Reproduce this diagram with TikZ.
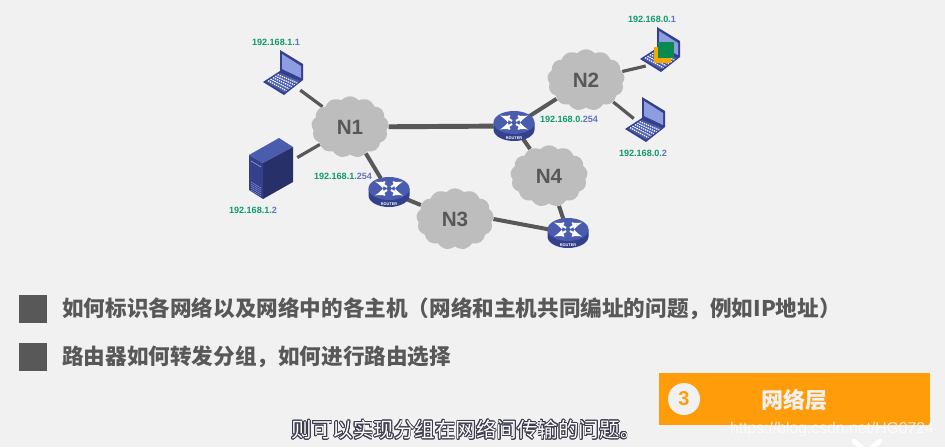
\documentclass[tikz,border=0pt]{standalone}
\usepackage{fontspec}
\usepackage{contour}
\setmainfont{Liberation Sans}
\newfontfamily\cjk{Noto Sans CJK SC}
\usetikzlibrary{shapes.symbols,shapes.geometric,calc,backgrounds}
\definecolor{netgray}{HTML}{BDBDBD}
\definecolor{linegray}{HTML}{585858}
\definecolor{ipgreen}{HTML}{0E9A6B}
\definecolor{ipblue}{HTML}{6673C0}
\definecolor{devdark}{HTML}{34408C}
\definecolor{devmid}{HTML}{4A5CAE}
\definecolor{devlight}{HTML}{8E9DE0}
\definecolor{layerorange}{HTML}{FF9C0A}
\definecolor{markorange}{HTML}{F5A800}
\definecolor{markgreen}{HTML}{0A8A50}
\definecolor{paper}{HTML}{F1F1F2}
\definecolor{subline}{HTML}{3C3C4C}
\contourlength{.55pt}
\newcommand{\ip}[2]{\textcolor{ipgreen}{#1}\textcolor{ipblue}{#2}}
\tikzset{
  net/.style={cloud,cloud puffs=13,cloud puff arc=100,fill=netgray,inner sep=0pt,
    minimum width=58pt,minimum height=46pt,text=linegray,font=\fontsize{15.5}{15.5}\selectfont\bfseries},
  dev/.style={inner sep=0pt,minimum size=6pt},
  routernode/.style={ellipse,inner sep=0pt,minimum width=30pt,minimum height=22pt},
  iplabel/.style={font=\fontsize{6.8}{7}\selectfont\bfseries,inner sep=0pt},
  bigline/.style={draw=linegray,line width=3pt},
  mainline/.style={draw=linegray,line width=3.7pt},
  smallline/.style={draw=linegray,line width=2.4pt},
  hanzi/.style={font=\fontsize{16.2}{16.2}\selectfont\cjk\bfseries,text=linegray,anchor=west,inner sep=0pt},
  bullet/.style={fill=linegray,draw=none,minimum size=21pt,inner sep=0pt},
  laptop/.pic={
    \fill[devdark] (-3,-23) -- (20,-9) -- (20,7) -- (1,22) -- (-20,9) -- (-3,-2) -- cycle;
    \fill[devlight] (-1,-19) -- (18,-7) -- (18,5) -- (-1,-4) -- cycle;
    \fill[devmid] (-17,9) -- (-3,0) -- (17,8) -- (1,19.5) -- cycle;
    \foreach \t in {.15,.32,.49,.66,.83}
      \draw[white,line width=.9pt,dash pattern=on 1pt off .7pt]
        ($(-17,9)!\t!(-3,0)$) -- ($(1,19.5)!\t!(17,8)$);
  },
  server/.pic={
    \fill[devmid] (0,-17) -- (14,-8) -- (-16,8) -- (-30,0) -- cycle;
    \fill[devdark] (-30,0) -- (-16,8) -- (-16,44) -- (-30,35) -- cycle;
    \fill[devdark!75!black] (-16,8) -- (14,-8) -- (14,27) -- (-16,44) -- cycle;
    \draw[devlight,line width=.5pt] (-28,6) -- (-18,12);
    \foreach \t in {27,29,31,33,35}
      \draw[devlight,line width=.3pt] (-28,\t) -- (-18,\t+6);
  },
  router/.pic={
    \fill[devdark] (-20.5,-3.5) -- (-20.5,3.5) arc[start angle=180,end angle=360,x radius=20.5,y radius=-11.5]
      -- (20.5,-3.5) -- cycle;
    \fill[devmid] (0,-3.5) ellipse[x radius=20.5,y radius=11.5];
    \foreach \sx in {-1,1}
      \foreach \sy in {-1,1} {
        \draw[white,line width=1.5pt,-latex] (\sx*2,\sy*1.5-3.5) -- (\sx*6,\sy*4-3.5) -- (\sx*14,\sy*7-3.5);
        \draw[white,line width=1.1pt] (\sx*4,\sy*6.5-3.5) -- (\sx*9,\sy*4.5-3.5);
      }
    \node[text=white,inner sep=0pt,font=\fontsize{2.9}{3}\selectfont\bfseries] at (0,12) {ROUTER};
  }
}
\begin{document}
\begin{tikzpicture}[x=.75pt,y=-.75pt]
  \useasboundingbox (0,0) rectangle (945,447);

  \node[net] (n1) at (350,127) {N1};
  \node[net] (n2) at (586,80) {N2};
  \node[net] (n3) at (455,219) {N3};
  \node[net] (n4) at (549,176) {N4};

  \node[routernode] (r1) at (389,192) {};
  \node[routernode] (r2) at (514,126) {};
  \node[routernode] (r3) at (568,233) {};
  \pic at (r1) {router};
  \pic at (r2) {router};
  \pic at (r3) {router};

  \pic at (283,73) {laptop};
  \pic at (660,50) {laptop};
  \pic at (645,120) {laptop};
  \pic at (279,155) {server};
  \node[dev] (pc1) at (296,87) {};
  \node[dev] (pc2) at (650,65) {};
  \node[dev] (pc3) at (638,122) {};
  \node[dev] (srv) at (293,160) {};

  \begin{scope}[on background layer]
    \fill[paper] (0,0) rectangle (945,447);
    \draw[smallline] (pc1) -- (n1);
    \draw[smallline] (srv) -- (n1);
    \draw[mainline] (n1) -- (r2);
    \draw[bigline] (n1) -- (r1);
    \draw[bigline] (r1) -- (n3);
    \draw[bigline] (n3.east) -- (r3);
    \draw[bigline] (r3) -- (n4);
    \draw[bigline] (n4) -- (r2);
    \draw[bigline] (r2) -- (n2);
    \draw[smallline] (n2) -- (pc2);
    \draw[smallline] (n2) -- (pc3);
  \end{scope}

  \fill[markorange] (654,47) rectangle (671,63);
  \fill[markgreen] (658,42) rectangle (674,58);

  \node[iplabel] (ip1) at (276,42) {\ip{192.168.1.}{1}};
  \node[iplabel] (ip2) at (253,210) {\ip{192.168.1.}{2}};
  \node[iplabel] (ip3) at (343,176) {\ip{192.168.1.}{254}};
  \node[iplabel] (ip4) at (652,19) {\ip{192.168.0.}{1}};
  \node[iplabel] (ip5) at (569,119) {\ip{192.168.0.}{254}};
  \node[iplabel] (ip6) at (643,153) {\ip{192.168.0.}{2}};

  \node[bullet] (b1) at (33,309) {};
  \node[bullet] (b2) at (33,357) {};
  \node[hanzi] (t1) at (62,309) {如何标识各网络以及网络中的各主机（网络和主机共同编址的问题，例如IP地址）};
  \node[hanzi] (t2) at (62,357) {路由器如何转发分组，如何进行路由选择};

  \fill[layerorange] (659,373) rectangle (930,425);
  \node[circle,fill=paper,minimum size=24pt,inner sep=0pt,text=layerorange,
    font=\fontsize{15}{15}\selectfont\bfseries] (num) at (684,399) {3};
  \node[font=\fontsize{16.5}{17}\selectfont\cjk\bfseries,text=paper,inner sep=0pt] (layer) at (794,400) {网络层};

  \node[font=\fontsize{15.4}{15.4}\selectfont\cjk,inner sep=0pt,text=white] (sub) at (466,430)
    {\contour{subline}{则可以实现分组在网络间传输的问题。}};
  \node[font=\fontsize{11.8}{12}\selectfont,text=white,opacity=.75,inner sep=0pt] (mark) at (832,429) {https://blog.csdn.net/HG0724};
  \draw[white,line width=3.5pt,line cap=round] (854,441) -- (867,452) (880,441) -- (867,452);
\end{tikzpicture}
\end{document}
